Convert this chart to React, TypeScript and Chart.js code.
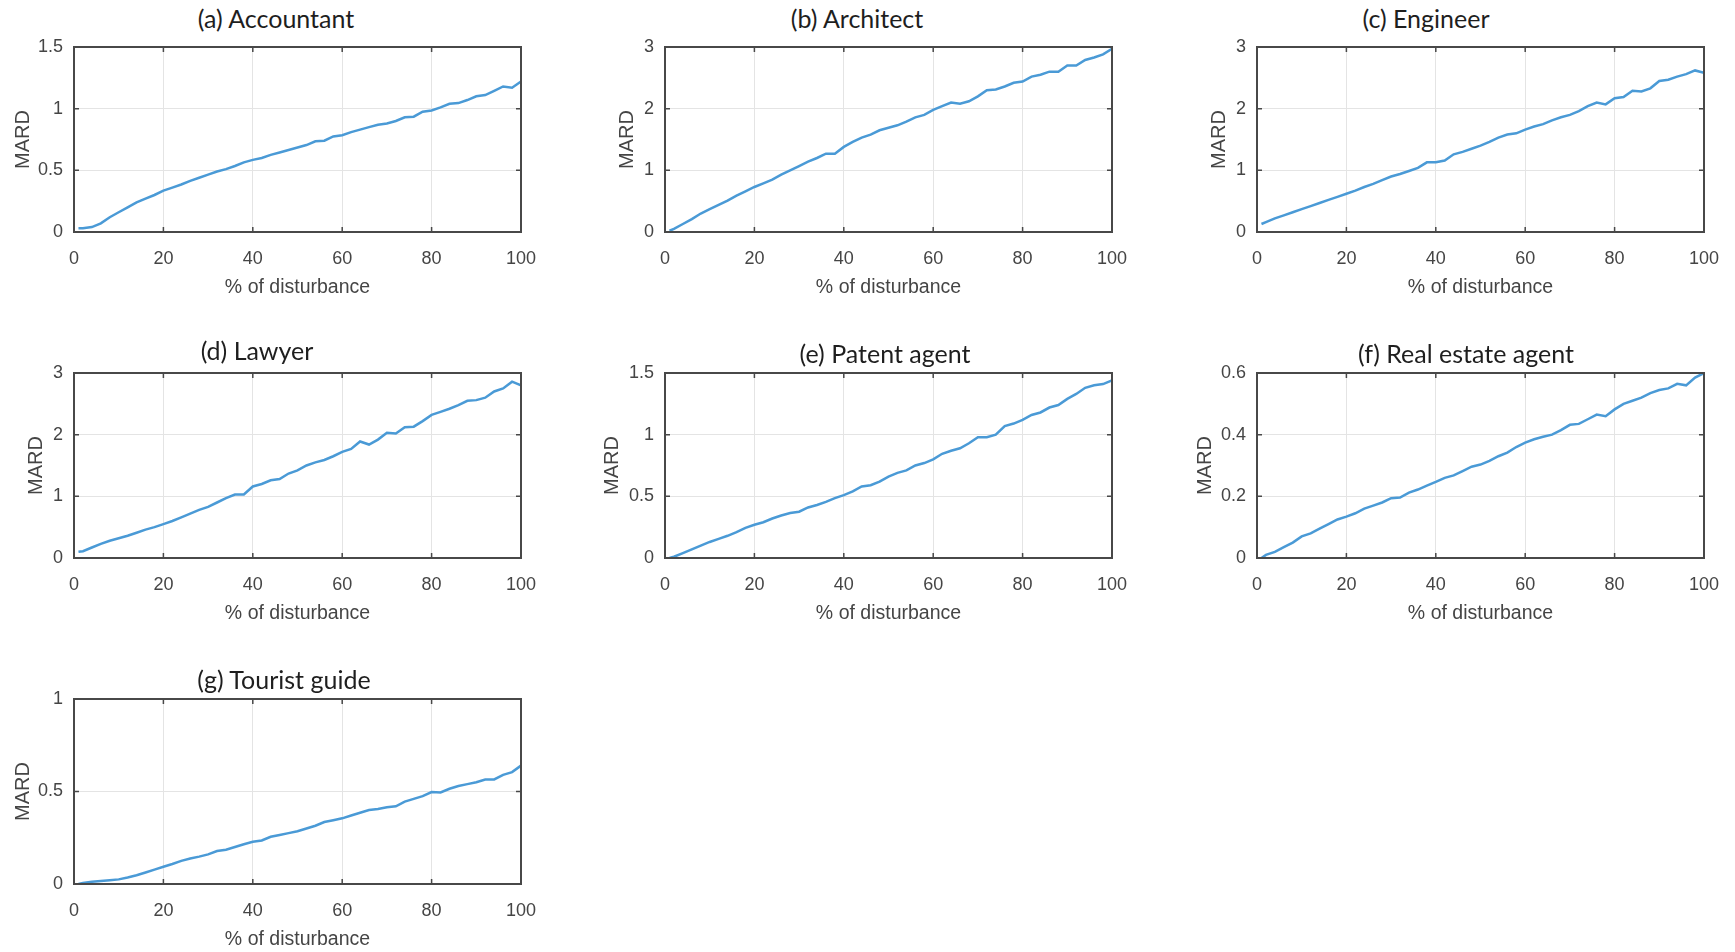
import React, { useEffect, useRef } from "react";
import { Chart, registerables } from "chart.js";

Chart.register(...registerables);

// x positions (% of disturbance)
const disturbance = [
  1, 2, 4, 6, 8, 10, 12, 14, 16, 18, 20, 22, 24, 26, 28, 30, 32, 34, 36, 38, 40,
  42, 44, 46, 48, 50, 52, 54, 56, 58, 60, 62, 64, 66, 68, 70, 72, 74, 76, 78, 80,
  82, 84, 86, 88, 90, 92, 94, 96, 98, 100,
];

const xTicks = [0, 20, 40, 60, 80, 100];

const accountant = [
  0.03, 0.03, 0.04, 0.07, 0.12, 0.16, 0.2, 0.24, 0.27, 0.3, 0.335, 0.36, 0.385,
  0.415, 0.44, 0.465, 0.49, 0.51, 0.535, 0.565, 0.585, 0.6, 0.625, 0.645, 0.665,
  0.685, 0.705, 0.735, 0.74, 0.775, 0.785, 0.81, 0.83, 0.85, 0.87, 0.88, 0.9,
  0.93, 0.935, 0.975, 0.985, 1.01, 1.04, 1.045, 1.07, 1.1, 1.11, 1.145, 1.18,
  1.17, 1.22,
];

const architect = [
  0.02, 0.05, 0.13, 0.21, 0.3, 0.37, 0.44, 0.51, 0.59, 0.66, 0.73, 0.79, 0.85,
  0.93, 1.0, 1.07, 1.14, 1.2, 1.27, 1.27, 1.38, 1.46, 1.53, 1.58, 1.65, 1.69,
  1.73, 1.79, 1.86, 1.9, 1.98, 2.04, 2.1, 2.08, 2.12, 2.2, 2.3, 2.31, 2.36, 2.42,
  2.44, 2.52, 2.55, 2.6, 2.6, 2.7, 2.7, 2.79, 2.83, 2.88, 2.97,
];

const engineer = [
  0.13, 0.16, 0.22, 0.27, 0.32, 0.37, 0.42, 0.47, 0.52, 0.57, 0.62, 0.67, 0.73,
  0.78, 0.84, 0.9, 0.94, 0.99, 1.04, 1.13, 1.13, 1.16, 1.26, 1.3, 1.35, 1.4,
  1.46, 1.53, 1.58, 1.6, 1.66, 1.71, 1.75, 1.81, 1.86, 1.9, 1.96, 2.04, 2.1,
  2.07, 2.17, 2.19, 2.29, 2.28, 2.33, 2.45, 2.47, 2.52, 2.56, 2.62, 2.58,
];

const lawyer = [
  0.1, 0.11, 0.17, 0.23, 0.28, 0.32, 0.36, 0.41, 0.46, 0.5, 0.55, 0.6, 0.66,
  0.72, 0.78, 0.83, 0.9, 0.97, 1.03, 1.03, 1.16, 1.2, 1.26, 1.28, 1.37, 1.42,
  1.5, 1.55, 1.59, 1.65, 1.72, 1.77, 1.89, 1.84, 1.92, 2.03, 2.02, 2.12, 2.13,
  2.22, 2.32, 2.37, 2.42, 2.48, 2.55, 2.56, 2.6, 2.7, 2.75, 2.86, 2.8,
];

const patentAgent = [
  0.0, 0.01, 0.04, 0.07, 0.1, 0.13, 0.155, 0.18, 0.21, 0.245, 0.27, 0.29, 0.32,
  0.345, 0.365, 0.375, 0.41, 0.43, 0.455, 0.485, 0.51, 0.54, 0.58, 0.59, 0.62,
  0.66, 0.69, 0.71, 0.75, 0.77, 0.8, 0.845, 0.87, 0.89, 0.93, 0.98, 0.98, 1.0,
  1.07, 1.09, 1.12, 1.16, 1.18, 1.22, 1.24, 1.29, 1.33, 1.38, 1.4, 1.41, 1.44,
];

const realEstateAgent = [
  0.0, 0.01, 0.02, 0.035, 0.05, 0.07, 0.08, 0.095, 0.11, 0.125, 0.134, 0.145,
  0.16, 0.17, 0.18, 0.194, 0.196, 0.212, 0.222, 0.235, 0.247, 0.26, 0.268,
  0.282, 0.296, 0.303, 0.315, 0.33, 0.342, 0.36, 0.374, 0.385, 0.393, 0.4,
  0.415, 0.432, 0.435, 0.45, 0.465, 0.46, 0.482, 0.5, 0.51, 0.52, 0.535, 0.545,
  0.55, 0.565, 0.56, 0.585, 0.6,
];

const touristGuide = [
  0.0, 0.005, 0.012, 0.016, 0.02, 0.025, 0.035, 0.047, 0.062, 0.078, 0.093,
  0.108, 0.125, 0.138, 0.148, 0.16, 0.178, 0.185, 0.2, 0.215, 0.228, 0.235,
  0.255, 0.265, 0.275, 0.285, 0.3, 0.315, 0.335, 0.345, 0.355, 0.37, 0.385, 0.4,
  0.405, 0.415, 0.42, 0.445, 0.46, 0.475, 0.497, 0.495, 0.515, 0.53, 0.54, 0.55,
  0.565, 0.565, 0.59, 0.605, 0.64,
];

const titles = [
  "(a) Accountant",
  "(b) Architect",
  "(c) Engineer",
  "(d) Lawyer",
  "(e) Patent agent",
  "(f) Real estate agent",
  "(g) Tourist guide",
];
const seriesList = [accountant, architect, engineer, lawyer, patentAgent, realEstateAgent, touristGuide];
const yMaxes = [1.5, 3, 3, 3, 1.5, 0.6, 1];
const ySteps = [0.5, 1, 1, 1, 0.5, 0.2, 0.5];

const xAxisTitle = "% of disturbance";
const yAxisTitle = "MARD";

// layout (page pixels)
const PLOT_W = 447;
const PLOT_H = 185;
const AXIS_LEFT = 74;
const PAD_TOP = 14;
const PAD_RIGHT = 26;
const AXIS_BOTTOM = 78;

const layout = [
  { left: 74, top: 47, titleX: 276, titleY: 18, ylabelGap: 51 },
  { left: 665, top: 47, titleX: 857, titleY: 18, ylabelGap: 38 },
  { left: 1257, top: 47, titleX: 1426, titleY: 18, ylabelGap: 38 },
  { left: 74, top: 373, titleX: 257, titleY: 350, ylabelGap: 38 },
  { left: 665, top: 373, titleX: 885, titleY: 353, ylabelGap: 53 },
  { left: 1257, top: 373, titleX: 1466, titleY: 353, ylabelGap: 52 },
  { left: 74, top: 699, titleX: 284, titleY: 679, ylabelGap: 51 },
];

const BOX_COLOR = "#484848";
const GRID_COLOR = "#e4e4e4";
const LINE_COLOR = "#4a9ad6";
const TEXT_COLOR = "#454545";
const TICK_FONT = "'Liberation Sans', Arial, sans-serif";

const boxPlugin = {
  id: "matlabBox",
  afterDatasetsDraw(chart: any) {
    const { ctx, chartArea, scales } = chart;
    const { left, right, top, bottom } = chartArea;
    const x = scales.x;
    const y = scales.y;
    const tl = 5;
    ctx.save();
    ctx.strokeStyle = BOX_COLOR;
    ctx.lineWidth = 1.5;
    ctx.beginPath();
    x.ticks.forEach((t: any) => {
      const px = x.getPixelForValue(t.value);
      ctx.moveTo(px, bottom);
      ctx.lineTo(px, bottom - tl);
      ctx.moveTo(px, top);
      ctx.lineTo(px, top + tl);
    });
    y.ticks.forEach((t: any) => {
      const py = y.getPixelForValue(t.value);
      ctx.moveTo(left, py);
      ctx.lineTo(left + tl, py);
      ctx.moveTo(right, py);
      ctx.lineTo(right - tl, py);
    });
    ctx.stroke();
    ctx.lineWidth = 2;
    ctx.strokeRect(left, top, right - left, bottom - top);
    ctx.restore();
  },
};

function Panel({ index }: { index: number }) {
  const ref = useRef<HTMLCanvasElement | null>(null);
  const lay = layout[index];
  const W = AXIS_LEFT + PLOT_W + PAD_RIGHT;
  const H = PAD_TOP + PLOT_H + AXIS_BOTTOM;

  useEffect(() => {
    if (!ref.current) return;
    const values = seriesList[index];
    const yTitleSize = 20;
    const yTitlePad = AXIS_LEFT - lay.ylabelGap - (yTitleSize * 1.2) / 2;
    const xTitleSize = 19.5;
    const xTitlePad = AXIS_BOTTOM - 56 - (xTitleSize * 1.2) / 2;
    const chart = new Chart(ref.current, {
      type: "line",
      data: {
        datasets: [
          {
            data: disturbance.map((d, i) => ({ x: d, y: values[i] })),
            borderColor: LINE_COLOR,
            borderWidth: 2.5,
            pointRadius: 0,
            tension: 0,
            fill: false,
          },
        ],
      },
      options: {
        animation: false,
        responsive: false,
        devicePixelRatio: 1,
        events: [],
        layout: { padding: { top: PAD_TOP, right: PAD_RIGHT, bottom: 0, left: 0 } },
        plugins: {
          legend: { display: false },
          tooltip: { enabled: false },
          title: { display: false },
        },
        scales: {
          x: {
            type: "linear",
            min: 0,
            max: 100,
            afterBuildTicks: (s: any) => {
              s.ticks = xTicks.map((v) => ({ value: v }));
            },
            afterFit: (s: any) => {
              s.height = AXIS_BOTTOM;
              s.paddingLeft = 0;
              s.paddingRight = 0;
            },
            grid: { color: GRID_COLOR, lineWidth: 1, drawTicks: false },
            border: { display: false },
            ticks: {
              color: TEXT_COLOR,
              font: { family: TICK_FONT, size: 18 },
              padding: 16,
              maxRotation: 0,
              autoSkip: false,
              callback: (v: any) => String(v),
            },
            title: {
              display: true,
              text: xAxisTitle,
              color: TEXT_COLOR,
              font: { family: TICK_FONT, size: xTitleSize },
              padding: { top: 0, bottom: xTitlePad },
            },
          },
          y: {
            type: "linear",
            min: 0,
            max: yMaxes[index],
            afterFit: (s: any) => {
              s.width = AXIS_LEFT;
              s.paddingTop = 0;
              s.paddingBottom = 0;
            },
            grid: { color: GRID_COLOR, lineWidth: 1, drawTicks: false },
            border: { display: false },
            ticks: {
              stepSize: ySteps[index],
              color: TEXT_COLOR,
              font: { family: TICK_FONT, size: 18 },
              padding: 11,
              callback: (v: any) => String(Math.round(Number(v) * 1000) / 1000),
            },
            title: {
              display: true,
              text: yAxisTitle,
              color: TEXT_COLOR,
              font: { family: TICK_FONT, size: yTitleSize },
              padding: { top: yTitlePad, bottom: 0 },
            },
          },
        },
      },
      plugins: [boxPlugin],
    } as any);
    return () => chart.destroy();
  }, [index]);

  return (
    <>
      <canvas
        ref={ref}
        width={W}
        height={H}
        style={{
          position: "absolute",
          left: lay.left - AXIS_LEFT,
          top: lay.top - PAD_TOP,
          width: W,
          height: H,
        }}
      />
      <div
        style={{
          position: "absolute",
          left: lay.titleX,
          top: lay.titleY,
          transform: "translate(-50%, -50%)",
          whiteSpace: "nowrap",
          fontFamily: "Lato, 'Open Sans', sans-serif",
          fontSize: 25,
          lineHeight: 1,
          color: "#1e1e1e",
        }}
      >
        {titles[index]}
      </div>
    </>
  );
}

export default function App() {
  return (
    <div
      style={{
        position: "absolute",
        left: 0,
        top: 0,
        width: 1735,
        height: 952,
        background: "#ffffff",
        overflow: "hidden",
      }}
    >
      {titles.map((_, i) => (
        <Panel key={i} index={i} />
      ))}
    </div>
  );
}
